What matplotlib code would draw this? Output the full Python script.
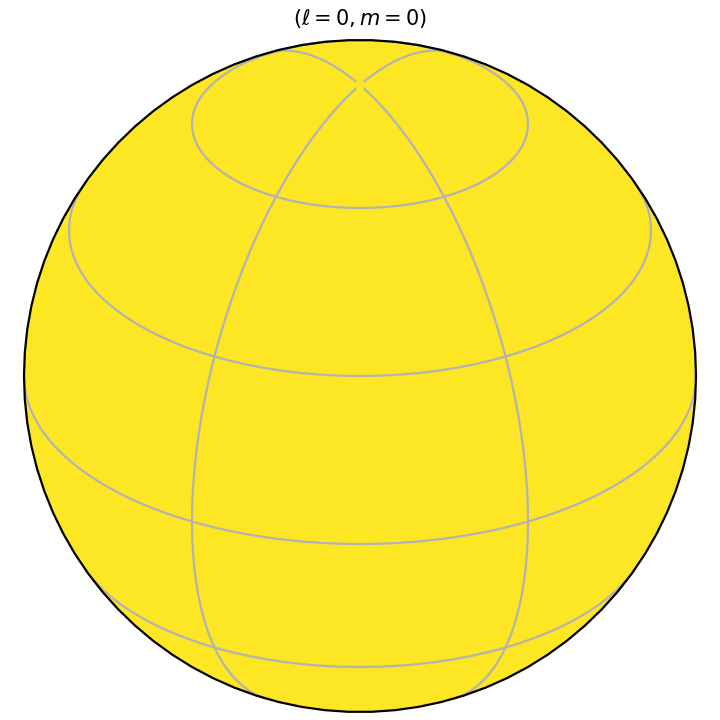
import numpy as np
import matplotlib
matplotlib.use("Agg")
import matplotlib.pyplot as plt

# Data
degree_l = 0
order_m = 0
field_level = 1.0  # Y_0^0 is constant -> top of colormap
view_elevation = 30.0
lat_lines = [-60, -30, 0, 30, 60]
lon_lines = [-150, -30, 30, 150]

def project(lat, lon, elev):
    p = np.radians(lat); l = np.radians(lon); e = np.radians(elev)
    x = np.cos(p) * np.sin(l)
    y = np.sin(p) * np.cos(e) - np.cos(p) * np.cos(l) * np.sin(e)
    d = np.cos(p) * np.cos(l) * np.cos(e) + np.sin(p) * np.sin(e)
    x = np.where(d >= 0, x, np.nan)
    y = np.where(d >= 0, y, np.nan)
    return x, y

fig = plt.figure(figsize=(7.2, 7.2), dpi=100)
ax = fig.add_axes([24/720, 8/720, 672/720, 672/720])
ax.set_xlim(-1.0, 1.0)
ax.set_ylim(-1.0, 1.0)
ax.set_aspect('equal')
ax.axis('off')

color = plt.get_cmap('viridis')(field_level)
t = np.linspace(0, 2*np.pi, 91)
ax.fill(np.cos(t), np.sin(t), color=color, zorder=1, lw=0)

grid_kw = dict(color='#b3b3b3', lw=1.6, zorder=2)
lons = np.linspace(-180, 180, 721)
for la in lat_lines:
    x, y = project(np.full_like(lons, la), lons, view_elevation)
    ax.plot(x, y, **grid_kw)
lats = np.linspace(-90, 88.5, 600)
for lo in lon_lines:
    x, y = project(lats, np.full_like(lats, lo), view_elevation)
    ax.plot(x, y, **grid_kw)

ax.plot(np.cos(t), np.sin(t), color='black', lw=1.6, zorder=3, clip_on=False)

fig.text(0.5, 1 - 19/720, r'$(\ell = %d, m = %d)$' % (degree_l, order_m),
         ha='center', va='center', fontsize=15)

fig.savefig('out.png', dpi=100)
